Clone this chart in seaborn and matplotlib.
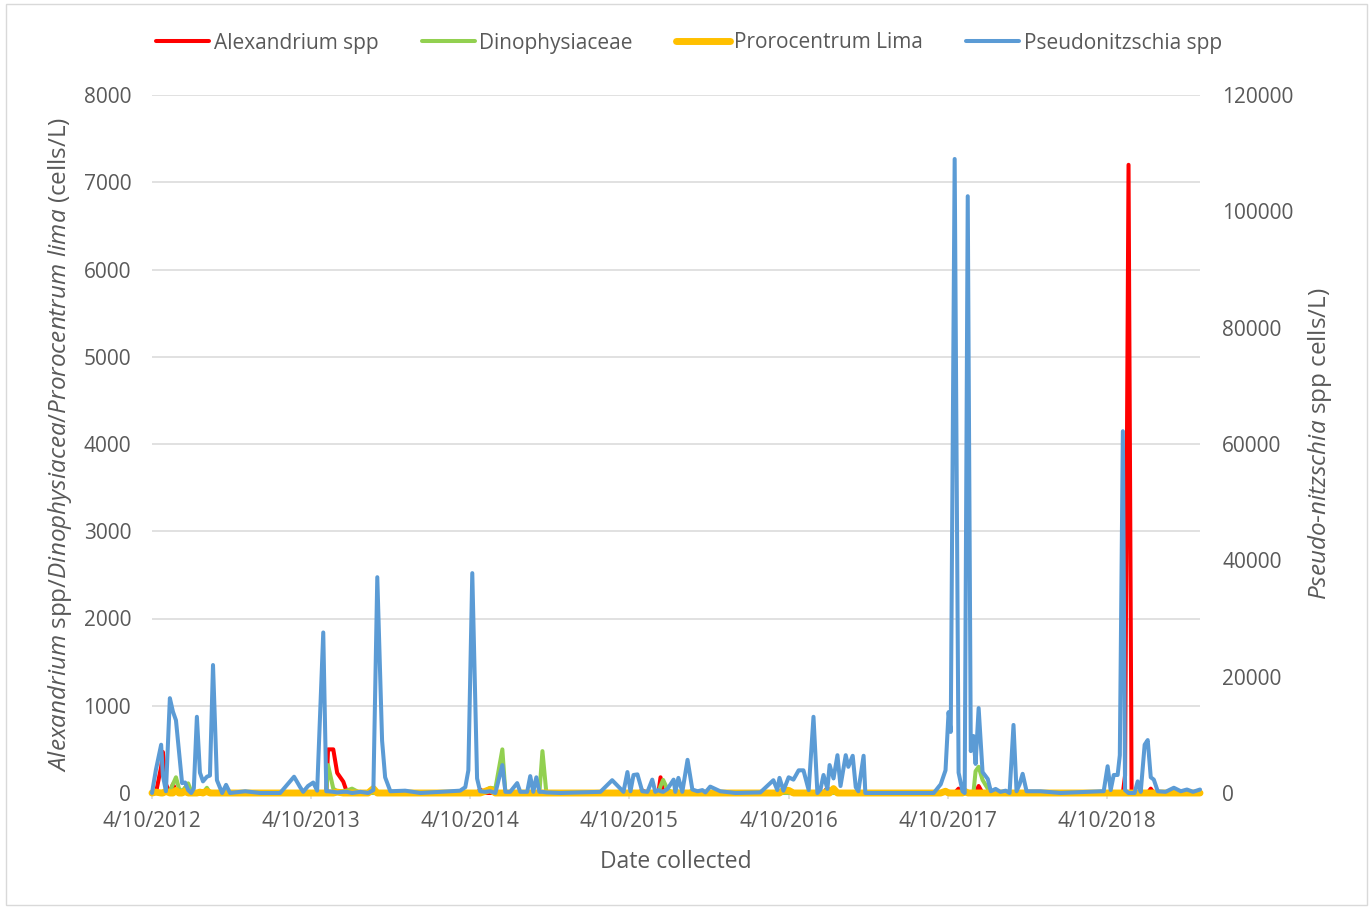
import numpy as np
import pandas as pd
import seaborn as sns
import matplotlib.pyplot as plt
import matplotlib.dates as mdates
from matplotlib.patches import Rectangle
from matplotlib.ticker import FuncFormatter

# sampling dates and cell counts
DATES = [
    "2012-04-10", "2012-04-19", "2012-05-01", "2012-05-05", "2012-05-12", "2012-05-21",
    "2012-05-28", "2012-06-04", "2012-06-11", "2012-06-18", "2012-06-25", "2012-07-02",
    "2012-07-09", "2012-07-15", "2012-07-22", "2012-07-29", "2012-08-05", "2012-08-14",
    "2012-08-21", "2012-08-28", "2012-09-06", "2012-09-18", "2012-09-27", "2012-10-06",
    "2012-11-10", "2012-12-14", "2013-01-29", "2013-03-02", "2013-03-16", "2013-03-23",
    "2013-04-03", "2013-04-15", "2013-04-24", "2013-05-08", "2013-05-15", "2013-05-19",
    "2013-05-31", "2013-06-09", "2013-06-23", "2013-07-02", "2013-07-13", "2013-08-01",
    "2013-08-19", "2013-08-31", "2013-09-09", "2013-09-20", "2013-09-27", "2013-10-09",
    "2013-11-12", "2013-12-17", "2014-03-18", "2014-03-30", "2014-04-06", "2014-04-15",
    "2014-04-26", "2014-05-03", "2014-05-15", "2014-05-26", "2014-06-07", "2014-06-23",
    "2014-06-30", "2014-07-11", "2014-07-27", "2014-08-03", "2014-08-19", "2014-08-26",
    "2014-09-02", "2014-09-09", "2014-09-16", "2014-09-23", "2014-10-02", "2014-11-03",
    "2015-02-03", "2015-03-02", "2015-03-28", "2015-04-06", "2015-04-13", "2015-04-20",
    "2015-04-29", "2015-05-10", "2015-05-22", "2015-06-02", "2015-06-09", "2015-06-16",
    "2015-06-21", "2015-06-27", "2015-07-07", "2015-07-21", "2015-07-25", "2015-08-01",
    "2015-08-10", "2015-08-22", "2015-09-02", "2015-09-14", "2015-09-25", "2015-10-02",
    "2015-10-13", "2015-11-05", "2015-12-10", "2016-02-05", "2016-03-06", "2016-03-15",
    "2016-03-20", "2016-03-29", "2016-04-10", "2016-04-21", "2016-05-03", "2016-05-14",
    "2016-05-26", "2016-06-06", "2016-06-15", "2016-06-22", "2016-06-29", "2016-07-08",
    "2016-07-13", "2016-07-22", "2016-07-31", "2016-08-07", "2016-08-19", "2016-08-25",
    "2016-09-04", "2016-09-11", "2016-09-17", "2016-09-29", "2016-10-03", "2016-12-23",
    "2017-03-09", "2017-03-25", "2017-04-05", "2017-04-12", "2017-04-17", "2017-04-26",
    "2017-05-05", "2017-05-14", "2017-05-19", "2017-05-26", "2017-06-02", "2017-06-08",
    "2017-06-13", "2017-06-20", "2017-06-29", "2017-07-11", "2017-07-18", "2017-07-29",
    "2017-08-09", "2017-08-21", "2017-08-30", "2017-09-08", "2017-09-15", "2017-09-22",
    "2017-09-29", "2017-10-08", "2017-11-09", "2017-12-25", "2018-03-27", "2018-04-03",
    "2018-04-12", "2018-04-19", "2018-04-26", "2018-05-05", "2018-05-10", "2018-05-17",
    "2018-05-22", "2018-05-30", "2018-06-06", "2018-06-13", "2018-06-20", "2018-06-27",
    "2018-07-06", "2018-07-13", "2018-07-20", "2018-07-27", "2018-08-05", "2018-08-23",
    "2018-09-11", "2018-09-27", "2018-10-11", "2018-10-25", "2018-11-10",
]

ALEXANDRIUM = [
    0, 0, 300, 470, 100, 0, 100, 30, 0, 0, 60, 0,
    0, 0, 0, 0, 0, 0, 0, 0, 0, 0, 0, 0,
    0, 0, 0, 0, 0, 0, 0, 0, 0, 0, 0, 500,
    500, 230, 130, 0, 0, 0, 0, 0, 0, 0, 0, 0,
    0, 0, 0, 0, 0, 0, 0, 40, 0, 0, 0, 0,
    0, 0, 0, 0, 0, 0, 0, 0, 0, 0, 0, 0,
    0, 0, 0, 0, 0, 0, 0, 30, 0, 0, 0, 0,
    180, 20, 0, 0, 0, 0, 0, 0, 0, 0, 0, 0,
    0, 0, 0, 0, 0, 0, 0, 0, 0, 0, 0, 0,
    0, 0, 0, 0, 0, 60, 0, 0, 0, 0, 0, 0,
    0, 0, 0, 0, 0, 0, 0, 0, 0, 0, 0, 0,
    50, 0, 0, 0, 0, 0, 0, 80, 0, 0, 0, 0,
    0, 0, 0, 0, 0, 0, 0, 0, 0, 0, 0, 0,
    0, 0, 0, 0, 0, 0, 200, 7200, 0, 0, 0, 0,
    0, 0, 50, 0, 0, 0, 0, 0, 0, 0, 0,
]

DINOPHYSIACEAE = [
    0, 0, 0, 0, 0, 20, 100, 180, 50, 20, 60, 110,
    20, 0, 0, 0, 0, 60, 0, 0, 0, 0, 0, 0,
    0, 0, 0, 0, 0, 0, 0, 0, 0, 0, 0, 320,
    50, 20, 20, 30, 50, 0, 0, 0, 0, 0, 0, 0,
    0, 0, 0, 0, 0, 0, 0, 0, 30, 60, 50, 500,
    0, 0, 0, 0, 0, 0, 0, 0, 0, 480, 0, 0,
    0, 0, 0, 0, 0, 0, 0, 0, 0, 0, 0, 0,
    80, 150, 40, 0, 50, 0, 0, 0, 30, 0, 0, 0,
    0, 0, 0, 0, 0, 0, 0, 0, 0, 0, 0, 0,
    0, 0, 0, 0, 0, 50, 0, 0, 0, 0, 0, 0,
    0, 0, 0, 0, 0, 0, 0, 0, 0, 0, 0, 0,
    0, 0, 0, 0, 0, 0, 250, 300, 150, 50, 0, 0,
    0, 0, 0, 0, 0, 0, 0, 0, 0, 0, 0, 0,
    0, 0, 0, 0, 0, 0, 0, 0, 0, 0, 0, 0,
    0, 0, 0, 0, 0, 0, 0, 0, 0, 0, 0,
]

PROROCENTRUM = [
    0, 10, 0, 0, 20, 0, 0, 30, 0, 0, 20, 0,
    0, 0, 0, 10, 0, 20, 0, 0, 0, 0, 0, 0,
    0, 0, 0, 0, 0, 0, 0, 0, 0, 0, 0, 0,
    0, 10, 0, 0, 0, 0, 0, 50, 0, 0, 0, 0,
    0, 0, 0, 0, 0, 0, 0, 0, 20, 40, 0, 0,
    0, 0, 0, 0, 0, 0, 0, 0, 0, 0, 0, 0,
    0, 0, 0, 0, 0, 0, 0, 0, 0, 0, 0, 0,
    0, 0, 0, 0, 0, 0, 0, 0, 0, 0, 0, 0,
    0, 0, 0, 0, 0, 0, 0, 30, 30, 0, 0, 0,
    0, 0, 0, 0, 0, 0, 0, 50, 0, 0, 0, 0,
    0, 0, 0, 0, 0, 0, 0, 0, 20, 0, 0, 0,
    0, 0, 20, 0, 0, 0, 0, 0, 0, 0, 0, 0,
    0, 0, 0, 0, 0, 0, 0, 0, 0, 0, 0, 0,
    0, 0, 0, 0, 0, 0, 0, 0, 0, 0, 0, 0,
    0, 0, 0, 0, 0, 0, 0, 0, 0, 0, 0,
]

PSEUDONITZSCHIA = [
    0, 4000, 8300, 3000, 300, 16300, 14000, 12500, 7000, 1700, 1800, 500,
    0, 800, 13100, 3500, 2000, 2800, 3000, 22000, 2200, 0, 1400, 0,
    300, 0, 0, 2800, 1000, 200, 1200, 1800, 400, 27600, 300, 300,
    200, 100, 200, 200, 0, 200, 0, 500, 37100, 9000, 2700, 300,
    400, 0, 400, 1000, 3900, 37800, 2500, 300, 200, 300, 0, 4800,
    200, 200, 1700, 200, 200, 2900, 200, 2700, 200, 200, 100, 0,
    200, 2200, 200, 3600, 300, 3100, 3200, 300, 200, 2300, 200, 500,
    300, 200, 700, 2300, 200, 2600, 200, 5700, 600, 300, 500, 100,
    1100, 300, 0, 100, 2200, 500, 2600, 400, 2700, 2300, 3900, 3900,
    500, 13100, 0, 600, 3100, 700, 4800, 2500, 6500, 1200, 6500, 4500,
    6400, 1000, 300, 6400, 0, 0, 0, 1500, 3900, 13900, 10500, 109000,
    3500, 300, 0, 102600, 7200, 9800, 5000, 14600, 3600, 2400, 300, 700,
    200, 400, 0, 11700, 300, 1500, 3300, 300, 300, 0, 300, 300,
    4600, 500, 3100, 3100, 6500, 62200, 500, 0, 0, 0, 2000, 200,
    8300, 9100, 2700, 2300, 300, 200, 900, 300, 600, 200, 600,
]

YEAR_TICKS = ["2012-04-10", "2013-04-10", "2014-04-10", "2015-04-10",
              "2016-04-10", "2017-04-10", "2018-04-10"]

LEFT_SERIES = [
    ("Alexandrium spp", ALEXANDRIUM, "#FF0000", 2.9),
    ("Dinophysiaceae", DINOPHYSIACEAE, "#92D050", 2.9),
    ("Prorocentrum Lima", PROROCENTRUM, "#FFC000", 5.0),
]
RIGHT_SERIES = ("Pseudonitzschia spp", PSEUDONITZSCHIA, "#5B9BD5", 2.9)

TXT = "#595959"
GRID = "#D9D9D9"


def main():
    df = pd.DataFrame({
        "date": pd.to_datetime(DATES),
        "Alexandrium spp": ALEXANDRIUM,
        "Dinophysiaceae": DINOPHYSIACEAE,
        "Prorocentrum Lima": PROROCENTRUM,
        "Pseudonitzschia spp": PSEUDONITZSCHIA,
    })

    sns.set_theme(style="white")
    plt.rcParams["font.family"] = ["Open Sans", "DejaVu Sans"]
    plt.rcParams["mathtext.fontset"] = "custom"
    plt.rcParams["mathtext.rm"] = "Open Sans"
    plt.rcParams["mathtext.it"] = "Open Sans:italic"
    plt.rcParams["mathtext.bf"] = "Open Sans:bold"

    W, H = 1370, 909
    fig = plt.figure(figsize=(W / 100, H / 100), dpi=100)
    fig.subplots_adjust(left=152 / W, right=1200 / W, bottom=1 - 793 / H, top=1 - 95 / H)
    ax = fig.add_subplot(111)
    ax2 = ax.twinx()

    handles = []
    for name, _, color, lw in LEFT_SERIES:
        sns.lineplot(data=df, x="date", y=name, ax=ax, color=color, linewidth=lw,
                     label=name, legend=False, clip_on=False, sort=False, zorder=3)
        handles.append(ax.get_lines()[-1])
    name, _, color, lw = RIGHT_SERIES
    sns.lineplot(data=df, x="date", y=name, ax=ax2, color=color, linewidth=lw,
                 label=name, legend=False, clip_on=False, sort=False, zorder=3)
    handles.append(ax2.get_lines()[-1])

    # axes ranges / ticks
    ax.set_xlim(df["date"].iloc[0], df["date"].iloc[-1])
    ax.set_ylim(0, 8000)
    ax.set_yticks(np.arange(0, 8001, 1000))
    ax2.set_ylim(0, 120000)
    ax2.set_yticks(np.arange(0, 120001, 20000))
    ax.set_xticks(pd.to_datetime(YEAR_TICKS))
    ax.xaxis.set_major_formatter(FuncFormatter(
        lambda v, pos: "{d.month}/{d.day}/{d.year}".format(d=mdates.num2date(v))))

    ax.grid(True, axis="y", color=GRID, linewidth=1.1)
    ax.grid(False, axis="x")
    ax2.grid(False)
    for a in (ax, ax2):
        for side in ("top", "left", "right"):
            a.spines[side].set_visible(False)
        a.spines["bottom"].set_color(GRID)
        a.spines["bottom"].set_linewidth(1.1)
        a.spines["bottom"].set_zorder(1)
    ax2.spines["bottom"].set_visible(False)

    ax.tick_params(axis="x", length=4, width=1.1, color=GRID, pad=9,
                   labelsize=15, labelcolor=TXT, bottom=True)
    ax.tick_params(axis="y", length=0, pad=15, labelsize=15, labelcolor=TXT)
    ax2.tick_params(axis="y", length=0, pad=16, labelsize=15, labelcolor=TXT)

    # axis titles
    ax.set_xlabel("Date collected", fontsize=16.5, color=TXT)
    ax.xaxis.label.set_va("center")
    ax.xaxis.set_label_coords(0.5, -(862 - 793) / 698)

    ax.set_ylabel(r"$\mathit{Alexandrium}$ spp/$\mathit{Dinophysiacea/Prorocentrum\ lima}$ (cells/L)",
                  fontsize=17.5, color=TXT)
    ax.yaxis.label.set_va("center")
    ax.yaxis.set_label_coords((60 - 152) / 1048, 0.5)

    ax2.set_ylabel(r"$\mathit{Pseudo}$-$\mathit{nitzschia}$ spp cells/L)", fontsize=17.5, color=TXT)
    ax2.yaxis.label.set_rotation(90)
    ax2.yaxis.label.set_va("center")
    ax2.yaxis.set_label_coords((1320 - 152) / 1048, 0.5)

    # legend across the top
    labels = [h.get_label() for h in handles]
    leg = fig.legend(handles, labels, loc="center", bbox_to_anchor=(689 / W, 1 - 43 / H),
                     ncol=4, frameon=False, fontsize=15, handlelength=2.55,
                     handletextpad=0.2, columnspacing=2.1, borderaxespad=0)
    for t in leg.get_texts():
        t.set_color(TXT)

    # chart-area border like the spreadsheet export
    fig.add_artist(Rectangle((6 / W, 4 / H), 1361 / W, 901 / H, transform=fig.transFigure,
                             fill=False, edgecolor=GRID, linewidth=1.0))

    fig.savefig("out.png", dpi=100)


if __name__ == "__main__":
    main()
